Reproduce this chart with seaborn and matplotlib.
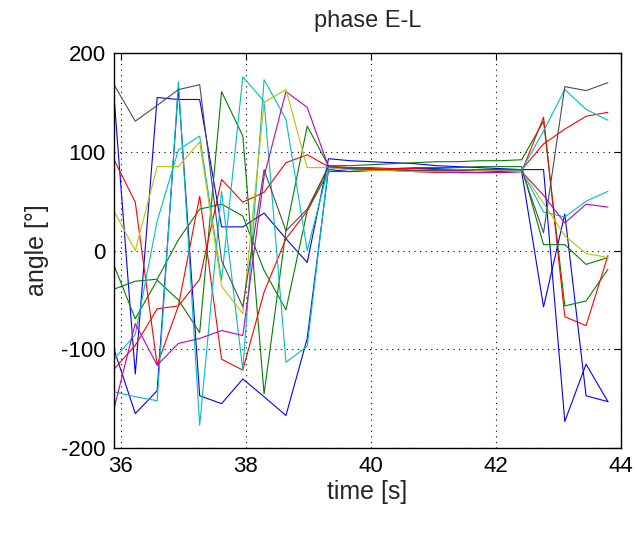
import numpy as np
import pandas as pd
import matplotlib
matplotlib.use("Agg")
import matplotlib.pyplot as plt
import seaborn as sns

# ── Data: angle traces (degrees) ────────────────────────────────────────────
time_s = [35.89, 36.23, 36.58, 36.92, 37.26, 37.61, 37.95, 38.29, 38.64, 38.98,
          39.32, 39.67, 40.01, 40.35, 40.70, 41.04, 41.38, 41.73, 42.07, 42.41,
          42.76, 43.10, 43.44, 43.79]

blue_1 = [156, -125, 155, 153, 153, 24, 24, 38, 12, -12,
          93, 91, 90, 89, 88, 86, 85, 84, 83, 82,
          82, -173, -115, -153]
blue_2 = [-100, -165, -142, 165, -147, -155, -130, -148, -167, -89,
          82, 80, 81, 82, 83, 83, 82, 81, 80, 80,
          -57, 37, -147, -153]
green_1 = [-15, -69, -30, -50, -83, 161, 116, -145, 20, 126,
           86, 86, 87, 88, 89, 90, 90, 91, 91, 92,
           131, -56, -51, -19]
green_2 = [-39, -31, -29, 11, 42, 47, 35, -20, -60, 40,
           80, 80, 82, 83, 84, 84, 84, 85, 85, 85,
           6, 6, -14, -7]
red_1 = [92, 49, -116, -56, 55, -110, -121, -42, 12, 40,
         85, 84, 83, 82, 80, 79, 79, 79, 79, 80,
         135, -67, -76, -5]
red_2 = [-120, -96, -59, -56, -29, 72, 49, 59, 89, 97,
         85, 84, 84, 83, 83, 82, 82, 81, 81, 82,
         108, 123, 136, 140]
cyan_1 = [-110, -85, 30, 102, 116, -30, 176, 151, -113, -97,
          85, 83, 82, 82, 81, 81, 82, 82, 82, 82,
          121, 163, 143, 132]
cyan_2 = [-143, -148, -152, 171, -177, 60, -121, 173, 133, 0,
          84, 82, 82, 81, 81, 80, 80, 81, 81, 81,
          39, 34, 50, 60]
magenta = [-160, -74, -116, -94, -89, -81, -86, 75, 161, 145,
           85, 83, 82, 81, 80, 80, 79, 79, 79, 80,
           56, 28, 47, 44]
yellow = [40, 0, 85, 85, 110, -36, -64, 150, 163, 84,
          84, 82, 81, 81, 80, 80, 80, 81, 81, 80,
          48, 15, -3, -7]
gray = [168, 131, 147, 163, 168, -10, -57, 82, 20, 42,
        85, 83, 82, 82, 81, 81, 81, 82, 82, 82,
        18, 166, 162, 170]

series = {
    "b1": blue_1, "b2": blue_2, "g1": green_1, "g2": green_2,
    "r1": red_1, "r2": red_2, "c1": cyan_1, "c2": cyan_2,
    "m": magenta, "y": yellow, "k": gray,
}
colors = {
    "b1": (0, 0, 1), "b2": (0, 0, 1),
    "g1": (0, 0.5, 0), "g2": (0, 0.5, 0),
    "r1": (1, 0, 0), "r2": (1, 0, 0),
    "c1": (0, 0.75, 0.75), "c2": (0, 0.75, 0.75),
    "m": (0.75, 0, 0.75), "y": (0.75, 0.75, 0), "k": (0.3, 0.3, 0.3),
}

df = pd.concat([pd.DataFrame({"time": time_s, "angle": v, "trace": k})
                for k, v in series.items()], ignore_index=True)

# ── Figure ──────────────────────────────────────────────────────────────────
sns.set_style("white")
plt.rcParams["font.family"] = ["Liberation Sans", "DejaVu Sans"]
plt.rcParams["axes.unicode_minus"] = False

fig = plt.figure(figsize=(6.37, 5.36), dpi=100)
ax = fig.add_axes([0.179, 0.164, 0.796, 0.737])

sns.lineplot(data=df, x="time", y="angle", hue="trace", palette=colors,
             estimator=None, sort=False, linewidth=0.8, legend=False, ax=ax)

ax.set_xlim(35.89, 44)
ax.set_ylim(-200, 200)
ax.set_xticks([36, 38, 40, 42, 44])
ax.set_yticks([-200, -100, 0, 100, 200])
ax.grid(True, color="black", linestyle=(0, (1, 4)), linewidth=0.8)
ax.tick_params(direction="in", top=True, right=True, length=5, pad=6,
               labelsize=16, color="black", labelcolor="black")
for s in ax.spines.values():
    s.set_color("black")
    s.set_linewidth(1.0)

ax.set_xlabel("time [s]", fontsize=18, labelpad=2)
ax.set_ylabel("angle [°]", fontsize=18, labelpad=9)
ax.set_title("phase E-L", fontsize=17, pad=19)

fig.savefig("out.png", dpi=100, facecolor="white")
